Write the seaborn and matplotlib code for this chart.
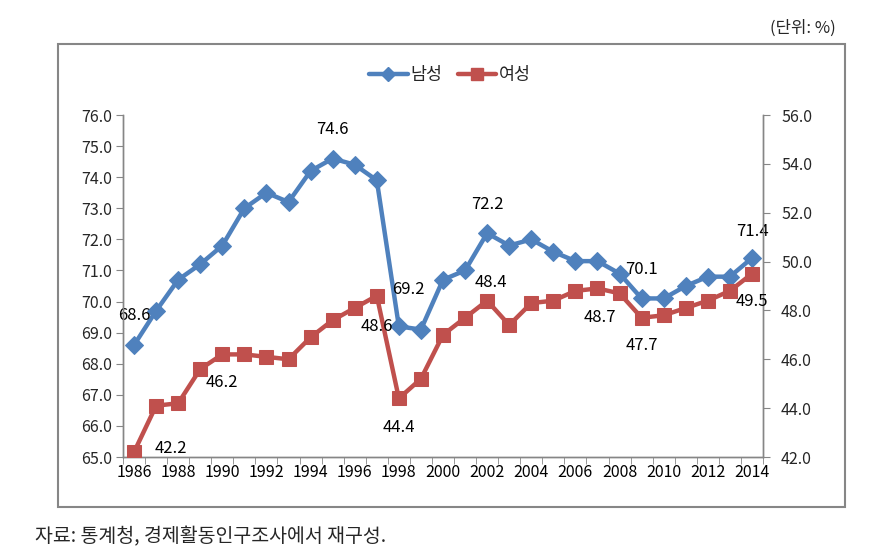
import matplotlib
matplotlib.use("Agg")
import matplotlib.pyplot as plt
import seaborn as sns
import pandas as pd
from matplotlib.patches import Rectangle
from matplotlib.lines import Line2D
from matplotlib.ticker import FixedLocator, FuncFormatter

years = list(range(1986, 2015))
men = [68.6, 69.7, 70.7, 71.2, 71.8, 73.0, 73.5, 73.2, 74.2, 74.6, 74.4, 73.9,
       69.2, 69.1, 70.7, 71.0, 72.2, 71.8, 72.0, 71.6, 71.3, 71.3, 70.9,
       70.1, 70.1, 70.5, 70.8, 70.8, 71.4]
women = [42.2, 44.1, 44.2, 45.6, 46.2, 46.2, 46.1, 46.0, 46.9, 47.6, 48.1, 48.6,
         44.4, 45.2, 47.0, 47.7, 48.4, 47.4, 48.3, 48.4, 48.8, 48.9, 48.7,
         47.7, 47.8, 48.1, 48.4, 48.8, 49.5]
series_names = ["남성", "여성"]
left_ticks = [65.0, 66.0, 67.0, 68.0, 69.0, 70.0, 71.0, 72.0, 73.0, 74.0, 75.0, 76.0]
right_ticks = [42.0, 44.0, 46.0, 48.0, 50.0, 52.0, 54.0, 56.0]
xtick_years = list(range(1986, 2015, 2))
unit_text = "(단위: %)"
source_text = "자료: 통계청, 경제활동인구조사에서 재구성."
# labelled points: (year, label offset in px)
men_labels = [(1986, 0, 30), (1995, 0, 29), (1998, 10, 37), (2002, 0, 29), (2009, 0, 29), (2014, 0, 27)]
women_labels = [(1986, 37, 4), (1990, 0, -28), (1997, 0, -31), (1998, 0, -29), (2002, 4, 18),
                (2008, -20, -24), (2009, 0, -28), (2014, 0, -28)]

sns.set_style("white")
plt.rcParams['font.family'] = ['Noto Sans CJK KR', 'DejaVu Sans']

BLUE = "#4F81BD"
RED = "#C0504D"
GRAY = "#868686"
FS = 11.5

df = pd.DataFrame({"year": years, "men": men, "women": women})

W, H = 890, 553
fig = plt.figure(figsize=(W / 100, H / 100), dpi=100)
ax = fig.add_axes([123 / W, 1 - 457 / H, (763 - 123) / W, (457 - 115) / H])
ax2 = ax.twinx()

sns.lineplot(data=df, x="year", y="men", ax=ax, color=BLUE, lw=3.2,
             marker="D", markersize=9.5, markeredgecolor=BLUE, zorder=3)
sns.lineplot(data=df, x="year", y="women", ax=ax2, color=RED, lw=3.2,
             marker="s", markersize=10, markeredgecolor=RED, zorder=3)

ax.set_xlim(1985.5, 2014.5)
ax.set_ylim(65, 76)
ax2.set_ylim(42, 56)

for a in (ax, ax2):
    a.set_xlabel("")
    a.set_ylabel("")
    for s in a.spines.values():
        s.set_color(GRAY)
        s.set_linewidth(1.0)
    a.spines["top"].set_visible(False)

ax.xaxis.set_major_locator(FixedLocator(xtick_years))
ax.xaxis.set_minor_locator(FixedLocator([y - 0.5 for y in years] + [2014.5]))
ax.xaxis.set_major_formatter(FuncFormatter(lambda v, p: f"{int(round(v))}"))
ax.tick_params(axis="x", which="major", length=0, labelsize=FS, pad=5, colors="black")
ax.tick_params(axis="x", which="minor", length=5, color=GRAY, direction="out", bottom=True)

ax.yaxis.set_major_locator(FixedLocator(left_ticks))
ax.yaxis.set_major_formatter(FuncFormatter(lambda v, p: f"{v:.1f}"))
ax.tick_params(axis="y", length=5, color=GRAY, direction="out", labelsize=FS, left=True, pad=3)

ax2.yaxis.set_major_locator(FixedLocator(right_ticks))
ax2.yaxis.set_major_formatter(FuncFormatter(lambda v, p: f"{v:.1f}"))
ax2.tick_params(axis="y", length=5, color=GRAY, direction="out", labelsize=FS, right=True, pad=8)

for yr, dx, dy in men_labels:
    v = men[years.index(yr)]
    ax.annotate(f"{v:.1f}", (yr, v), xytext=(dx * 0.72, dy * 0.72), textcoords="offset points",
                ha="center", va="center", fontsize=12, color="black", zorder=5)
for yr, dx, dy in women_labels:
    v = women[years.index(yr)]
    ax2.annotate(f"{v:.1f}", (yr, v), xytext=(dx * 0.72, dy * 0.72), textcoords="offset points",
                 ha="center", va="center", fontsize=12, color="black", zorder=5)

handles = [Line2D([], [], color=BLUE, lw=3.2, marker="D", markersize=7),
           Line2D([], [], color=RED, lw=3.2, marker="s", markersize=8)]
fig.legend(handles, series_names, loc="center", bbox_to_anchor=(450 / W, 1 - 75 / H),
           ncol=2, frameon=False, fontsize=12.5, handlelength=2.2, handletextpad=0.15,
           columnspacing=0.9)

fig.patches.append(Rectangle((58 / W, 1 - 507 / H), (845 - 58) / W, (507 - 44) / H,
                             transform=fig.transFigure, fill=False, edgecolor=GRAY, lw=1.5))

fig.text(836 / W, 1 - 28 / H, unit_text, ha="right", va="center", fontsize=12)
fig.text(35 / W, 1 - 537 / H, source_text, ha="left", va="center", fontsize=14)

fig.savefig("out.png", dpi=100)
